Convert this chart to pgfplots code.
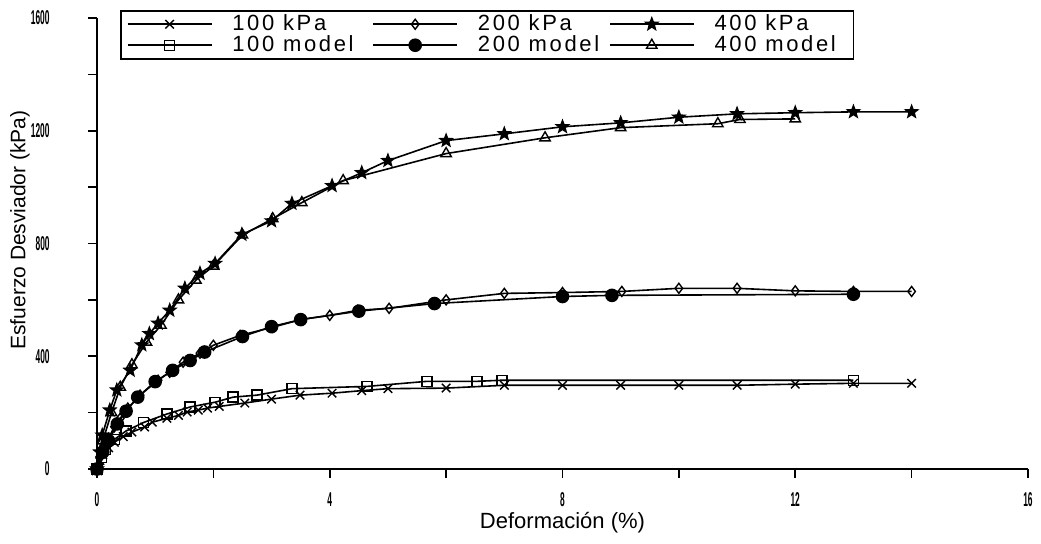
\documentclass[border=0pt]{standalone}
\usepackage{pgfplots}
\pgfplotsset{compat=1.18}
\usepackage{fontspec}
\setmainfont{Liberation Sans}
\newfontfamily\legfont{Liberation Sans}[LetterSpace=12]

% filled five-point star
\pgfdeclareplotmark{fstar}{%
  \pgfpathmoveto{\pgfpointpolar{90}{\pgfplotmarksize}}%
  \pgfpathlineto{\pgfpointpolar{126}{0.42\pgfplotmarksize}}%
  \pgfpathlineto{\pgfpointpolar{162}{\pgfplotmarksize}}%
  \pgfpathlineto{\pgfpointpolar{198}{0.42\pgfplotmarksize}}%
  \pgfpathlineto{\pgfpointpolar{234}{\pgfplotmarksize}}%
  \pgfpathlineto{\pgfpointpolar{270}{0.42\pgfplotmarksize}}%
  \pgfpathlineto{\pgfpointpolar{306}{\pgfplotmarksize}}%
  \pgfpathlineto{\pgfpointpolar{342}{0.42\pgfplotmarksize}}%
  \pgfpathlineto{\pgfpointpolar{18}{\pgfplotmarksize}}%
  \pgfpathlineto{\pgfpointpolar{54}{0.42\pgfplotmarksize}}%
  \pgfpathclose
  \pgfusepathqfillstroke
}

\begin{document}
\begin{tikzpicture}
\begin{axis}[
  scale only axis,
  width=465.5pt, height=225.5pt,
  xmin=0, xmax=16, ymin=0, ymax=1600,
  axis lines=left,
  axis line style={-, line width=0.8pt},
  xtick={0,4,8,12,16}, ytick={0,400,800,1200,1600},
  minor x tick num=1, minor y tick num=1,
  tick align=outside,
  major tick length=4.5pt, minor tick length=4.5pt,
  every tick/.style={black, line width=0.8pt},
  /pgf/number format/assume math mode=true,
  /pgf/number format/1000 sep={},
  tick label style={font=\fontsize{10}{10}\selectfont\bfseries, inner sep=0pt},
  xticklabel={\scalebox{0.42}[1]{\pgfmathprintnumber{\tick}}},
  yticklabel={\scalebox{0.42}[1]{\pgfmathprintnumber{\tick}}},
  xticklabel style={anchor=north, yshift=-7pt},
  yticklabel style={anchor=east, xshift=-19pt},
  xlabel={Deformación (\%)},
  ylabel={Esfuerzo Desviador (kPa)},
  every axis x label/.style={at={(axis description cs:0.5,-0.1197)}, anchor=center, font=\fontsize{11}{12}\selectfont},
  every axis y label/.style={at={(axis description cs:-0.0827,0.53)}, anchor=center, rotate=90, font=\fontsize{10.5}{12}\selectfont},
  clip=false,
  every axis plot/.append style={black, line width=0.8pt, mark size=2.5pt, mark options={solid, fill=white, line width=0.7pt}},
  legend columns=3,
  legend style={at={(axis description cs:0.0247,1.0177)}, anchor=north west,
    draw=black, line width=0.8pt, font=\legfont\fontsize{11}{12}\selectfont,
    inner xsep=3pt, inner ysep=0pt, row sep=-3pt,
    /tikz/every odd column/.append style={column sep=8pt},
    /tikz/every even column/.append style={column sep=0pt}},
  legend cell align=left,
  legend image code/.code={\draw[mark repeat=2, mark phase=2] plot coordinates {(0pt,0pt) (21pt,0pt) (42pt,0pt)};},
]
% 100 kPa
\addplot[mark=x, mark size=3pt] coordinates {(0,0) (0.05,30) (0.1,50) (0.2,75) (0.3,95) (0.45,115) (0.6,131) (0.82,149) (0.95,166) (1.2,180) (1.4,190) (1.55,202) (1.74,209) (1.9,216) (2.1,222) (2.54,234) (3.0,248) (3.49,262) (4.04,269) (4.55,278) (5,285) (6,287) (7,297) (8,297) (9,297) (10,297) (11,297) (12,301) (13,304) (14,304)};
\addlegendentry{\makebox[68pt][l]{100 kPa}}
% 200 kPa
\addplot[mark=diamond, mark size=2.5pt] coordinates {(0,0) (0.05,40) (0.1,70) (0.2,110) (0.3,150) (0.4,180) (0.53,216) (0.74,262) (1.05,315) (1.25,343) (1.48,379) (1.77,411) (2.0,439) (2.46,474) (3.02,503) (3.52,531) (4.0,545) (4.48,563) (5.02,570) (6.0,600) (7,623) (8,626) (9.02,630) (10,641) (11,641) (12,632) (13,630) (14,630)};
\addlegendentry{\makebox[63.5pt][l]{200 kPa}}
% 400 kPa
\addplot[mark=fstar, mark size=3pt, mark options={fill=black}] coordinates {(0,0) (0.05,60) (0.09,120) (0.22,209) (0.34,280) (0.57,350) (0.77,440) (0.9,480) (1.05,517) (1.25,563) (1.51,641) (1.77,694) (2.03,729) (2.49,832) (3.0,880) (3.35,942) (4.04,1005) (4.55,1051) (5.0,1094) (6.0,1165) (7,1189) (8,1214) (9,1228) (10,1248) (11,1260) (12,1264) (13,1267) (14,1267)};
\addlegendentry{\makebox[64.5pt][l]{400 kPa}}
% 100 model
\addplot[mark=square] coordinates {(0,0) (0.08,40) (0.15,70) (0.3,105) (0.5,135) (0.8,165) (1.2,195) (1.6,220) (2.03,237) (2.34,255) (2.75,262) (3.35,285) (4.64,293) (5.67,311) (6.53,311) (6.96,315) (13,315)};
\addlegendentry{\makebox[68pt][l]{100 model}}
% 200 model
\addplot[mark=*, mark size=3pt, mark options={fill=black}] coordinates {(0,0) (0.1,60) (0.2,100) (0.35,160) (0.5,205) (0.7,255) (1.0,310) (1.3,350) (1.6,385) (1.85,415) (2.5,470) (3.0,505) (3.5,530) (4.5,560) (5.8,587) (8,612) (8.85,616) (13,620)};
\addlegendentry{\makebox[63.5pt][l]{200 model}}
% 400 model
\addplot[mark=triangle, mark size=3pt] coordinates {(0,0) (0.1,100) (0.25,200) (0.4,290) (0.6,370) (0.85,450) (1.1,510) (1.4,600) (1.7,670) (2.0,720) (2.5,830) (3.02,888) (3.52,945) (4.23,1023) (6.0,1119) (7.7,1175) (9,1211) (10.67,1225) (11.05,1240) (12,1242)};
\addlegendentry{\makebox[64.5pt][l]{400 model}}
\end{axis}
\pgfresetboundingbox
\path (-48.5pt,-37pt) rectangle (472pt,234.5pt);
\end{tikzpicture}
\end{document}
